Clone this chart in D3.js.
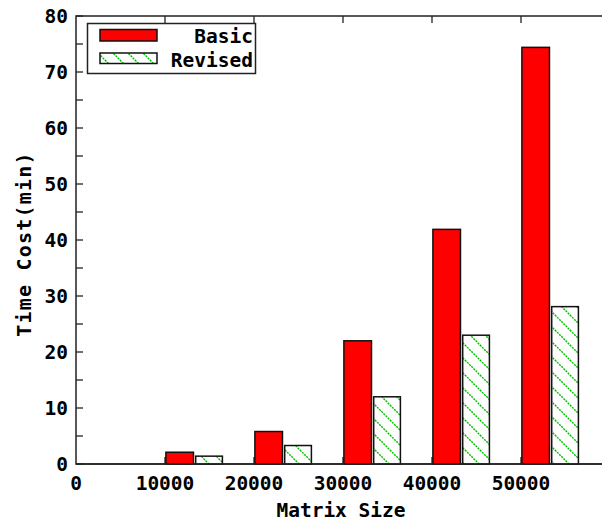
<!DOCTYPE html>
<html>
<head>
<meta charset="utf-8">
<script src="https://cdn.jsdelivr.net/npm/d3@7"></script>
<style>
  html, body { margin: 0; padding: 0; background: #fff; }
  svg { display: block; }
  text { font-family: "DejaVu Sans Mono", "Liberation Mono", monospace; font-weight: bold; fill: #000; }
</style>
</head>
<body>
<svg id="chart" width="602" height="521"></svg>
<script>
// ---- data ----
const matrixSizes = [10000, 20000, 30000, 40000, 50000];
const basicMinutes = [2.1, 5.8, 22.0, 41.9, 74.4];
const revisedMinutes = [1.4, 3.3, 12.0, 23.0, 28.1];
const seriesNames = ["Basic", "Revised"];
const xTickValues = [0, 10000, 20000, 30000, 40000, 50000];
const yTickValues = [0, 10, 20, 30, 40, 50, 60, 70, 80];
const yMinorTickValues = [5, 15, 25, 35, 45, 55, 65, 75];
const xTitle = "Matrix Size";
const yTitle = "Time Cost(min)";

(function () {
// ---- layout ----
const svg = d3.select("#chart");
const pL = 76, pR = 610, pT = 16, pB = 464;
const x = d3.scaleLinear().domain([0, 60000]).range([pL, pR]);
const y = d3.scaleLinear().domain([0, 80]).range([pB, pT]);
const fontSize = 19.5;
const tickLen = 7;

// hatch pattern
const defs = svg.append("defs");
const pat = defs.append("pattern")
  .attr("id", "hatch").attr("patternUnits", "userSpaceOnUse")
  .attr("width", 15).attr("height", 15);
pat.append("rect").attr("width", 15).attr("height", 15).attr("fill", "#fff");
pat.append("path")
  .attr("d", "M0,0L15,15M-7.5,7.5L7.5,22.5M7.5,-7.5L22.5,7.5")
  .attr("stroke", "#00c000").attr("stroke-width", 1.4)
  .attr("stroke-dasharray", "2,1");

// frame
svg.append("rect")
  .attr("x", pL).attr("y", pT)
  .attr("width", pR - pL).attr("height", pB - pT)
  .attr("fill", "none").attr("stroke", "#222").attr("stroke-width", 1.5);

// y ticks (inward, mirrored on right side)
const yAll = yTickValues.concat(yMinorTickValues);
svg.append("g").selectAll("line").data(yAll).join("line")
  .attr("x1", pL).attr("x2", pL + tickLen)
  .attr("y1", d => y(d)).attr("y2", d => y(d))
  .attr("stroke", "#222").attr("stroke-width", 1.3);
svg.append("g").selectAll("line").data(yAll).join("line")
  .attr("x1", pR).attr("x2", pR - tickLen)
  .attr("y1", d => y(d)).attr("y2", d => y(d))
  .attr("stroke", "#222").attr("stroke-width", 1.3);

// x ticks (inward, bottom and top)
const xInner = xTickValues.filter(d => d > 0);
svg.append("g").selectAll("line").data(xInner).join("line")
  .attr("x1", d => x(d)).attr("x2", d => x(d))
  .attr("y1", pB).attr("y2", pB - tickLen)
  .attr("stroke", "#222").attr("stroke-width", 1.3);
svg.append("g").selectAll("line").data(xInner).join("line")
  .attr("x1", d => x(d)).attr("x2", d => x(d))
  .attr("y1", pT).attr("y2", pT + tickLen)
  .attr("stroke", "#222").attr("stroke-width", 1.3);

// y tick labels
svg.append("g").selectAll("text").data(yTickValues).join("text")
  .attr("x", 68).attr("y", d => y(d)).attr("dy", "0.36em")
  .attr("text-anchor", "end").attr("font-size", fontSize)
  .text(d => d);

// x tick labels
svg.append("g").selectAll("text").data(xTickValues).join("text")
  .attr("x", d => x(d)).attr("y", 490)
  .attr("text-anchor", "middle").attr("font-size", fontSize)
  .text(d => d);

// axis titles
svg.append("text")
  .attr("x", (pL + 606) / 2).attr("y", 517)
  .attr("text-anchor", "middle").attr("font-size", fontSize)
  .text(xTitle);
svg.append("text")
  .attr("transform", `translate(31,244) rotate(-90)`)
  .attr("text-anchor", "middle").attr("font-size", 20)
  .attr("letter-spacing", 1.2)
  .text(yTitle);

// bars
const groups = matrixSizes.map((m, i) => ({ m, basic: basicMinutes[i], revised: revisedMinutes[i] }));
const basicOff = [100, 3200], revisedOff = [3450, 6450];
svg.append("g").selectAll("rect").data(groups).join("rect")
  .attr("x", d => x(d.m + basicOff[0]))
  .attr("width", d => x(d.m + basicOff[1]) - x(d.m + basicOff[0]))
  .attr("y", d => y(d.basic))
  .attr("height", d => y(0) - y(d.basic))
  .attr("fill", "#ff0000").attr("stroke", "#111").attr("stroke-width", 1.5);
svg.append("g").selectAll("rect").data(groups).join("rect")
  .attr("x", d => x(d.m + revisedOff[0]))
  .attr("width", d => x(d.m + revisedOff[1]) - x(d.m + revisedOff[0]))
  .attr("y", d => y(d.revised))
  .attr("height", d => y(0) - y(d.revised))
  .attr("fill", "url(#hatch)").attr("stroke", "#111").attr("stroke-width", 1.5);

// redraw baseline over bar bottoms
svg.append("line").attr("x1", pL).attr("x2", pR)
  .attr("y1", pB).attr("y2", pB)
  .attr("stroke", "#222").attr("stroke-width", 1.5);

// legend
const lg = svg.append("g");
lg.append("rect").attr("x", 87.5).attr("y", 23.5).attr("width", 168).attr("height", 50)
  .attr("fill", "#fff").attr("stroke", "#222").attr("stroke-width", 1.5);
const legendFills = ["#ff0000", "url(#hatch)"];
const swY = [29.5, 53], swH = [11.5, 10.5], txtY = [43, 67];
seriesNames.forEach((name, i) => {
  lg.append("rect").attr("x", 100).attr("y", swY[i]).attr("width", 57).attr("height", swH[i])
    .attr("fill", legendFills[i]).attr("stroke", "#111").attr("stroke-width", 1.5);
  lg.append("text").attr("x", 253).attr("y", txtY[i])
    .attr("text-anchor", "end").attr("font-size", fontSize).text(name);
});
})();
</script>
</body>
</html>
